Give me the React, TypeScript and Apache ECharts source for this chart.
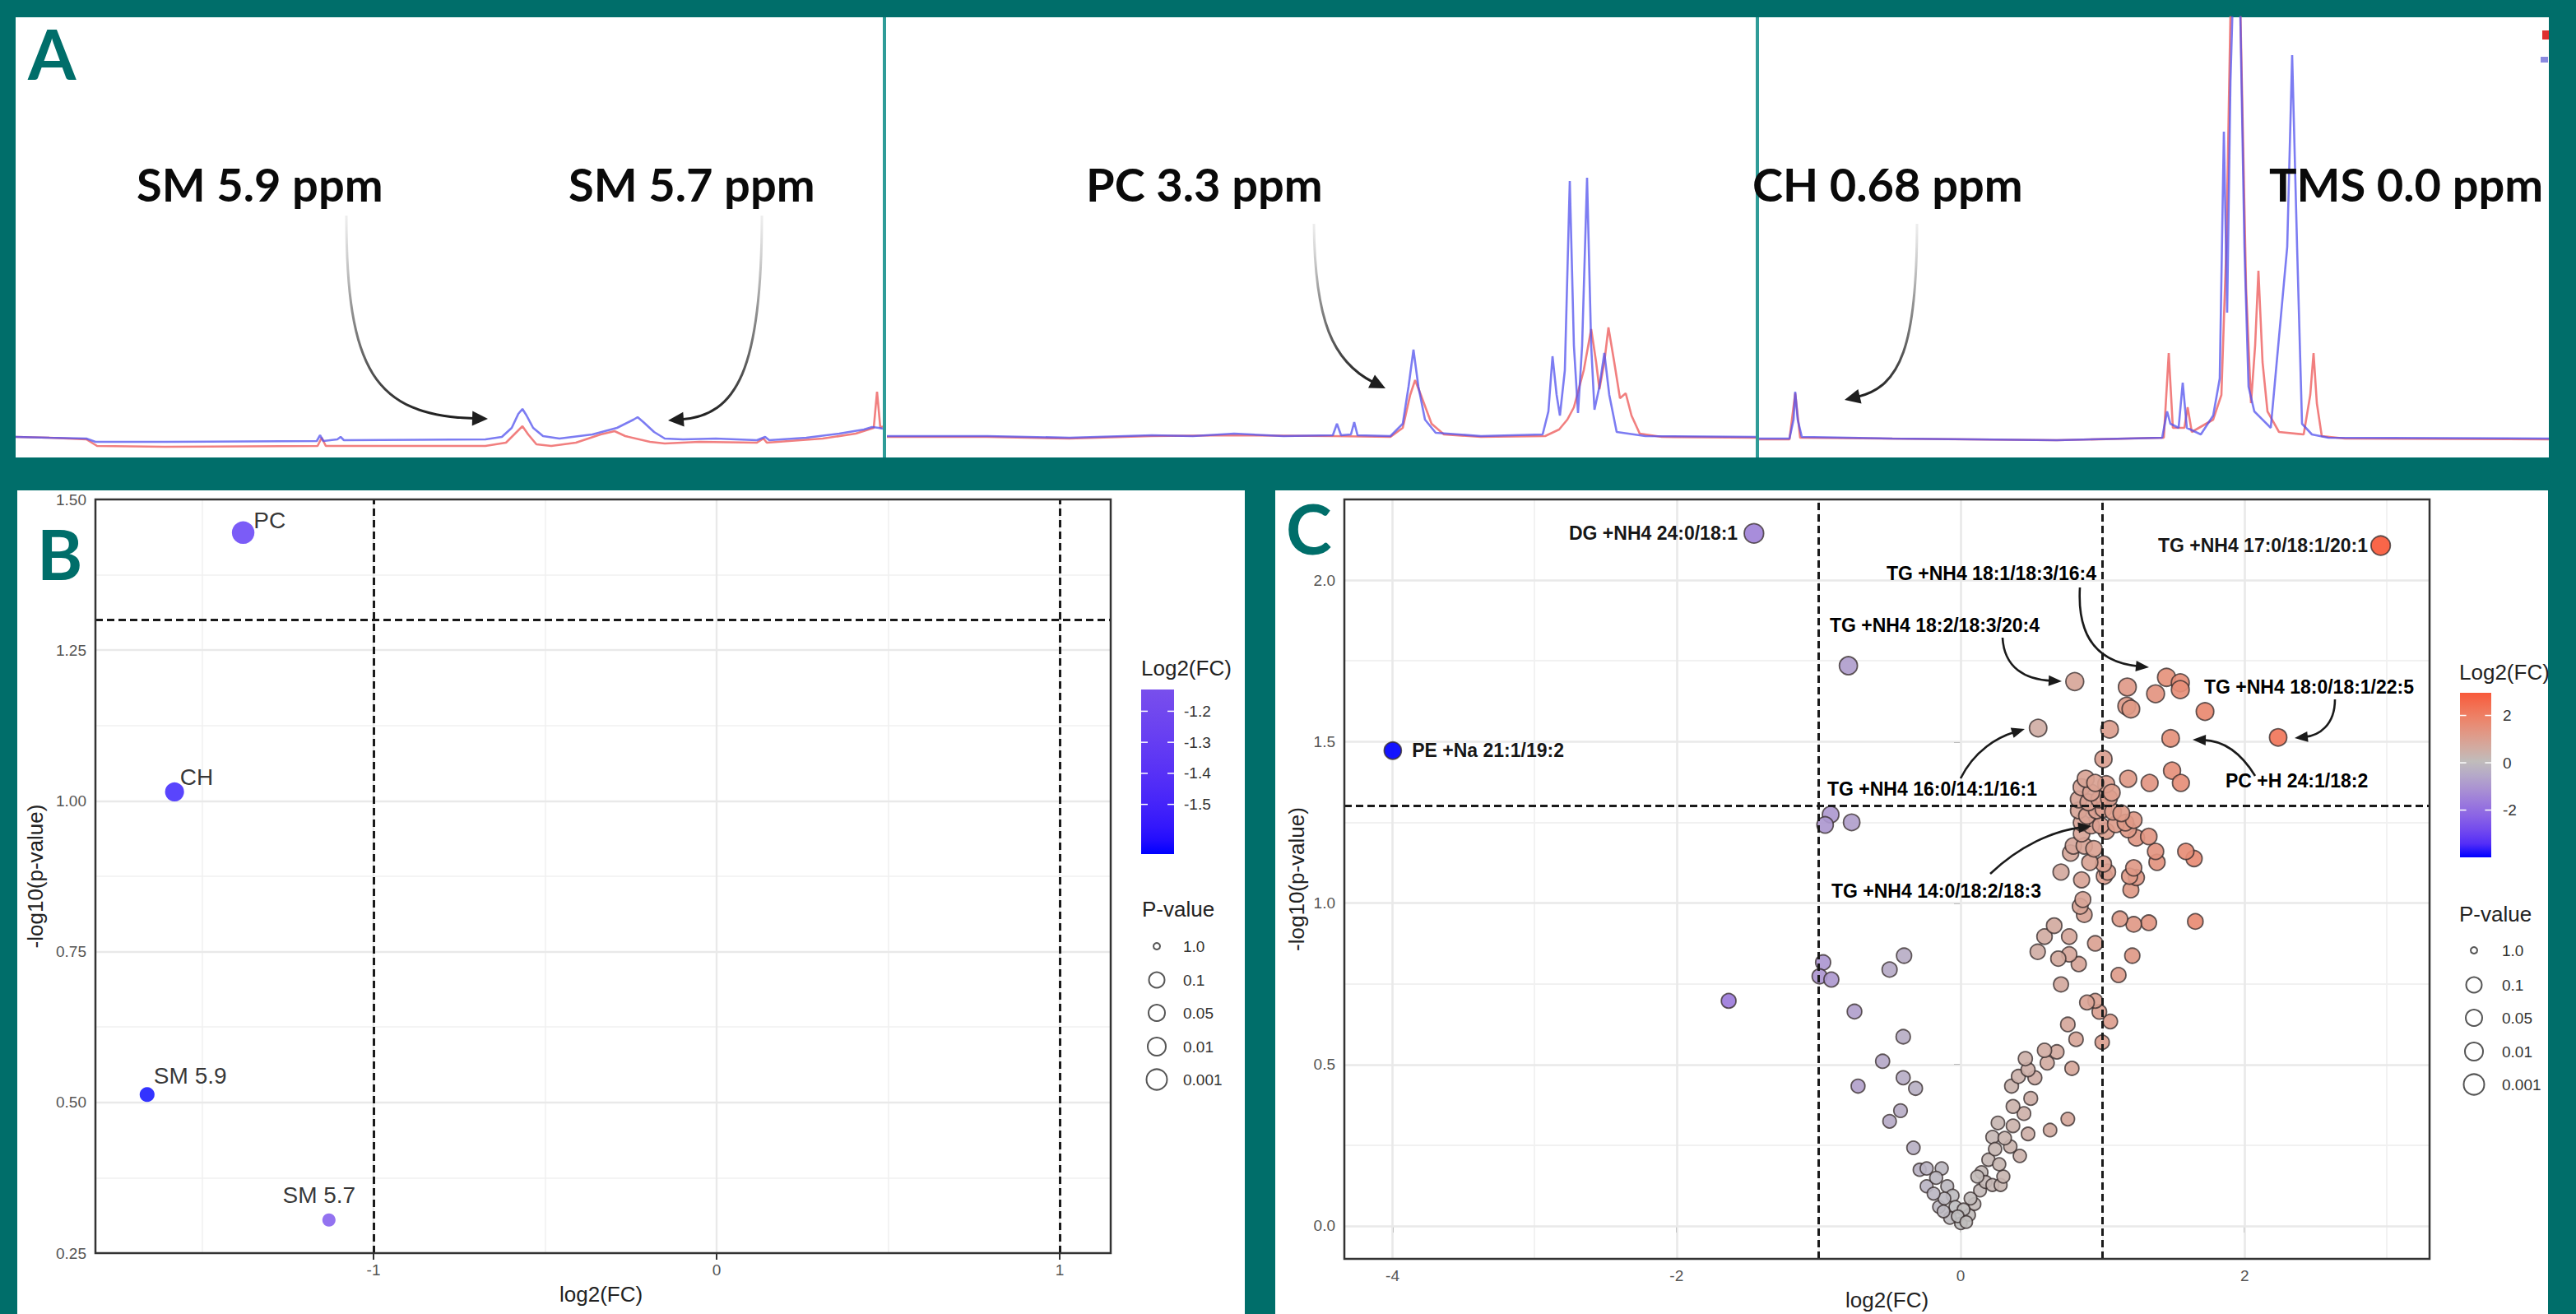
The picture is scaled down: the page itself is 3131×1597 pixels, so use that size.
import React, { useEffect, useRef } from "react";
import * as echarts from "echarts";

// ===================== DATA =====================
// Panel A : 1H-NMR traces, [position along sub-panel, intensity]
const a1Red = [[0,25],[41,24],[86,22],[99,14],[181,13],[367,14],[372,24],[377,14],[571,14],[596,18],[606,28],[616,38],[623,28],[633,16],[651,14],[681,18],[711,28],[728,32],[741,26],[771,19],[789,17],[831,19],[901,18],[909,23],[913,18],[981,23],[1021,29],[1043,36],[1047,80],[1051,36],[1054,38]];
const a1Blue = [[0,25],[41,24],[86,23],[97,19],[181,19],[366,20],[370,27],[374,20],[391,22],[395,25],[399,21],[571,22],[591,25],[603,36],[611,53],[616,59],[621,51],[629,36],[641,26],[661,23],[701,28],[731,36],[751,46],[756,49],[763,43],[776,31],[789,23],[811,22],[851,23],[901,21],[911,25],[916,21],[961,24],[1001,29],[1031,34],[1041,37],[1049,36],[1054,35]];
const a2Red = [[0,25],[122,25],[222,23],[322,26],[422,27],[542,26],[612,25],[627,36],[636,76],[642,94],[649,76],[662,41],[677,28],[722,25],[800,26],[817,34],[827,46],[835,61],[847,106],[856,156],[862,116],[866,83],[872,116],[877,158],[884,116],[891,72],[898,78],[905,51],[915,29],[942,25],[1056,24]];
const a2Blue = [[0,26],[122,26],[222,24],[322,27],[372,26],[422,29],[482,26],[542,27],[547,41],[552,27],[564,28],[568,43],[572,27],[612,26],[627,41],[634,86],[640,131],[646,86],[654,46],[667,30],[722,26],[797,28],[804,56],[809,123],[814,76],[818,51],[824,106],[830,336],[835,136],[840,54],[845,136],[851,340],[856,136],[860,58],[866,86],[872,127],[878,76],[887,31],[922,26],[1056,25]];
const a3Red = [[0,22],[37,22],[44,78],[50,24],[362,21],[492,24],[498,127],[503,36],[517,36],[521,61],[526,31],[552,46],[562,76],[568,256],[574,596],[584,596],[592,206],[598,66],[603,136],[607,227],[612,116],[618,56],[632,31],[662,28],[670,76],[674,127],[678,66],[684,26],[712,23],[960,22]];
const a3Blue = [[0,23],[37,23],[42,46],[44,80],[47,46],[52,25],[162,23],[362,21],[490,24],[496,56],[500,41],[510,36],[515,91],[520,36],[537,28],[552,51],[560,96],[565,396],[569,176],[573,456],[577,596],[584,596],[590,256],[595,86],[602,56],[622,36],[642,256],[648,489],[654,256],[660,41],[672,28],[692,24],[960,23]];
const nmrLabels = ["SM 5.9 ppm", "SM 5.7 ppm", "PC 3.3 ppm", "CH 0.68 ppm", "TMS 0.0 ppm"];

// Panel B : NMR lipids
const bNames = ["PC", "CH", "SM 5.9", "SM 5.7"];
const bLog2FC = [-1.38, -1.58, -1.66, -1.13];
const bNegLogP = [1.445, 1.015, 0.513, 0.305];
const bXTicks = [-1, 0, 1];
const bYTicks = [0.25, 0.5, 0.75, 1.0, 1.25, 1.5];
const bColorTicks = [-1.2, -1.3, -1.4, -1.5];

// Panel C : lipidomics volcano plot, [log2(FC), -log10(p)]
const cPoints = [
  [-1.633,0.697],[-0.790,1.735],[-0.915,1.274],[-0.954,1.242],[-0.767,1.250],[-0.968,0.816],[-0.993,0.773],[-0.910,0.763],
  [-0.398,0.837],[-0.500,0.794],[-0.747,0.664],[-0.404,0.586],[-0.549,0.510],[-0.722,0.433],[-0.404,0.459],[-0.317,0.426],
  [-0.423,0.357],[-0.500,0.324],[-0.332,0.242],
  [-0.288,0.174],[-0.239,0.178],[-0.133,0.178],[-0.239,0.123],[-0.172,0.149],[-0.094,0.123],[-0.152,0.059],[-0.056,0.094],
  [-0.037,0.059],[0.002,0.008],[0.060,0.034],[0.098,0.068],[0.137,0.110],[0.147,0.166],[-0.075,0.025],[-0.114,0.085],
  [0.021,0.051],[0.070,0.085],[0.176,0.136],[0.196,0.205],[0.225,0.275],[0.118,0.153],[-0.020,0.030],[0.040,0.012],
  [-0.190,0.100],[-0.120,0.045],
  [0.224,0.127],[0.282,0.127],[0.301,0.153],[0.272,0.191],[0.417,0.217],[0.243,0.238],[0.350,0.246],[0.311,0.272],
  [0.475,0.285],[0.369,0.310],[0.263,0.319],[0.630,0.297],[0.755,0.331],[0.446,0.348],[0.369,0.370],[0.494,0.395],
  [0.359,0.433],[0.407,0.463],[0.523,0.459],[0.475,0.484],[0.784,0.488],[0.610,0.505],
  [0.456,0.518],[0.678,0.539],[0.591,0.544],[0.997,0.569],[0.813,0.578],[0.755,0.624],[1.054,0.633],[0.977,0.663],
  [0.948,0.697],[0.890,0.692],[0.707,0.748],[1.112,0.777],[1.209,0.837],[0.948,0.875],[0.832,0.811],[0.765,0.841],
  [0.688,0.828],[0.543,0.849],[0.765,0.896],[0.591,0.896],[0.659,0.930],[1.653,0.943],[1.325,0.939],[1.219,0.934],
  [1.122,0.951],[0.871,0.964],[0.842,0.990],[0.861,1.011],[1.383,1.126],[1.199,1.041],[1.238,1.079],[1.190,1.083],
  [1.219,1.109],[0.852,1.072],[0.707,1.096],[1.012,1.083],[1.035,1.096],[1.006,1.121],[0.910,1.126],[0.775,1.155],
  [1.644,1.138],
  [0.794,1.177],[0.871,1.177],[0.939,1.168],[1.373,1.160],[1.586,1.160],[0.852,1.215],[1.025,1.223],[0.919,1.240],
  [0.987,1.240],[0.852,1.249],[1.238,1.202],[1.325,1.206],[1.180,1.228],[1.093,1.244],[1.161,1.249],[1.219,1.257],
  [0.832,1.287],[0.890,1.270],[0.958,1.287],[1.006,1.291],[1.074,1.283],[1.132,1.278],[0.832,1.321],[0.900,1.312],
  [0.977,1.321],[1.045,1.325],[0.852,1.359],[0.919,1.342],[1.025,1.368],[1.064,1.342],[0.881,1.385],[0.948,1.372],
  [1.006,1.446],[1.180,1.385],[1.331,1.372],[1.489,1.410],[1.551,1.372],[1.049,1.538],[1.479,1.510],[1.170,1.610],
  [1.199,1.601],[1.721,1.593],[1.174,1.669],[1.450,1.699],[1.373,1.648],[1.547,1.682],[1.547,1.661],[0.804,1.686],
  [0.546,1.542],[2.236,1.513],
];
const cDirectNames = ["DG +NH4 24:0/18:1", "PE +Na 21:1/19:2", "TG +NH4 17:0/18:1/20:1"];
const cDirectX = [-1.455, -3.998, 2.958];
const cDirectY = [2.145, 1.472, 2.107];
const cArrowLabels = ["TG +NH4 18:1/18:3/16:4", "TG +NH4 18:2/18:3/20:4", "TG +NH4 16:0/14:1/16:1",
  "TG +NH4 14:0/18:2/18:3", "TG +NH4 18:0/18:1/22:5", "PC +H 24:1/18:2"];
const cXTicks = [-4, -2, 0, 2];
const cYTicks = [0, 0.5, 1.0, 1.5, 2.0];
const cColorTicks = [2, 0, -2];
const pLegendLabels = ["1.0", "0.1", "0.05", "0.01", "0.001"];
const fcCut = [-1, 1];
const pCut = 1.301;

// ===================== LAYOUT / STYLE =====================
const W = 3131, H = 1597;
const TEAL = "#006e6a";
const SANS = "'Liberation Sans', Arial, Helvetica, sans-serif";
const LATO = "Lato, 'Noto Sans', sans-serif";
const LAY = {
  panelA: [19, 21, 3079, 535], panelB: [21, 596, 1492, 1001], panelC: [1550, 596, 1547, 1001],
  aSubs: [[19, 1054], [1078, 1056], [2138, 960]], aSeps: [1073, 2134],
  gridB: { left: 116, top: 607, width: 1234, height: 916 }, bX: [-1.8106, 1.1487], bY: [0.25, 1.5],
  gridC: { left: 1634, top: 607, width: 1319, height: 923 }, cX: [-4.339, 3.302], cY: [-0.102, 2.25],
  letters: [["A", 34, 64], ["B", 45, 672], ["C", 1563, 641]],
  nmrLabelPos: [[166, 223], [691, 223], [1320, 223], [2130, 223], [2758, 223]],
  nmrArrows: [
    [[421, 262], [421, 450], [455, 505], [593, 509]],
    [[926, 262], [926, 450], [895, 505], [812, 511]],
    [[1597, 272], [1598, 390], [1620, 440], [1684, 472]],
    [[2330, 272], [2330, 420], [2310, 470], [2242, 486]],
  ],
  bLabel: [
    { position: "right", distance: 0, offset: [-1, -15] },
    { position: "right", distance: 0, offset: [-5, -18] },
    { position: "right", distance: 0, offset: [-1, -23] },
    { position: "top", distance: 0, offset: [-12, -8] },
  ],
  cDirect: [{ position: "left", distance: 7 }, { position: "right", distance: 12 }, { position: "left", distance: 3 }],
  cArrowLabelPos: [[2548, 697, "right"], [2224, 760, "left"], [2221, 959, "left"], [2226, 1083, "left"], [2679, 835, "left"], [2705, 949, "left"]],
  cArrows: [
    [[2528, 714], [2524, 785], [2560, 806], [2612, 811]],
    [[2434, 775], [2436, 812], [2462, 826], [2506, 828]],
    [[2383, 946], [2400, 912], [2428, 896], [2461, 886]],
    [[2419, 1062], [2455, 1028], [2495, 1010], [2542, 1004]],
    [[2838, 850], [2838, 882], [2818, 894], [2789, 897]],
    [[2741, 943], [2722, 912], [2700, 900], [2665, 899]],
  ],
  bLegend: { title: [1387, 812], bar: [1387, 838, 40, 200], lab: 1439, pTitle: [1388, 1105], cx: 1406, cy: [1150, 1191, 1231, 1272, 1312] },
  cLegend: { title: [2989, 817], bar: [2990, 842, 38, 200], lab: 3042, pTitle: [2989, 1111], cx: 3007, cy: [1155, 1197, 1237, 1278, 1318] },
  pCircleD: [8, 19, 20, 22, 25],
};

// ===================== COLOUR (ggplot gradient2, Lab) =====================
const lin = (c: number) => { c /= 255; return c <= 0.04045 ? c / 12.92 : Math.pow((c + 0.055) / 1.055, 2.4); };
const gam = (c: number) => { const v = c <= 0.0031308 ? 12.92 * c : 1.055 * Math.pow(c, 1 / 2.4) - 0.055; return Math.round(Math.max(0, Math.min(1, v)) * 255); };
function toLab(rgb: number[]) {
  const [R, G, B] = rgb.map(lin);
  const X = (R * 0.4124 + G * 0.3576 + B * 0.1805) / 0.95047, Y = R * 0.2126 + G * 0.7152 + B * 0.0722, Z = (R * 0.0193 + G * 0.1192 + B * 0.9505) / 1.08883;
  const f = (t: number) => (t > 0.008856 ? Math.cbrt(t) : 7.787 * t + 16 / 116);
  return [116 * f(Y) - 16, 500 * (f(X) - f(Y)), 200 * (f(Y) - f(Z))];
}
function fromLab([L, a, b]: number[]) {
  const fy = (L + 16) / 116, fx = fy + a / 500, fz = fy - b / 200;
  const fi = (t: number) => (t * t * t > 0.008856 ? t * t * t : (t - 16 / 116) / 7.787);
  const X = fi(fx) * 0.95047, Y = fi(fy), Z = fi(fz) * 1.08883;
  return `rgb(${gam(3.2406 * X - 1.5372 * Y - 0.4986 * Z)},${gam(-0.9689 * X + 1.8758 * Y + 0.0415 * Z)},${gam(0.0557 * X - 0.204 * Y + 1.057 * Z)})`;
}
const LAB_MID = toLab([190, 190, 190]), LAB_HI = toLab([255, 0, 0]), LAB_LO = toLab([0, 0, 255]);
function gradient2(v: number, lim: number) {
  const t = Math.min(1, Math.abs(v) / lim), end = v >= 0 ? LAB_HI : LAB_LO;
  return fromLab(LAB_MID.map((m, i) => m + (end[i] - m) * t));
}

// ===================== HELPERS =====================
const txt = (x: number, y: number, text: string, size: number, o: any = {}) => ({
  type: "text", x, y, z: 60, silent: true,
  style: { text, fontSize: size, fontFamily: o.family ?? SANS, fontWeight: o.weight ?? "normal", fill: o.color ?? "#222", align: o.align ?? "left", verticalAlign: "middle", lineHeight: o.lineHeight ?? Math.round(size * 1.15) },
});
function arrow(a: number[][], stroke: any, width: number, hl: number, hw: number, head: string) {
  const [p0, c1, c2, p3] = a;
  const dx = p3[0] - c2[0], dy = p3[1] - c2[1], d = Math.hypot(dx, dy), ux = dx / d, uy = dy / d;
  const bx = p3[0] - ux * hl, by = p3[1] - uy * hl, nx = -uy, ny = ux;
  return [
    { type: "bezierCurve", z: 55, silent: true, shape: { x1: p0[0], y1: p0[1], cpx1: c1[0], cpy1: c1[1], cpx2: c2[0], cpy2: c2[1], x2: bx + ux * 3, y2: by + uy * 3 }, style: { stroke, lineWidth: width, fill: null } },
    { type: "polygon", z: 56, silent: true, shape: { points: [[p3[0], p3[1]], [bx + (nx * hw) / 2, by + (ny * hw) / 2], [bx - (nx * hw) / 2, by - (ny * hw) / 2]] }, style: { fill: head } },
  ];
}
function legendBlock(lg: any, min: number, max: number, lim: number, ticks: number[], fmt: (v: number) => string) {
  const [bx, by, bw, bh] = lg.bar;
  const stops = Array.from({ length: 13 }, (_, i) => ({ offset: i / 12, color: gradient2(max - ((max - min) * i) / 12, lim) }));
  const els: any[] = [
    txt(lg.title[0], lg.title[1], "Log2(FC)", 26),
    { type: "rect", z: 58, silent: true, shape: { x: bx, y: by, width: bw, height: bh }, style: { fill: new echarts.graphic.LinearGradient(0, 0, 0, 1, stops) } },
  ];
  ticks.forEach((v) => {
    const ty = by + ((max - v) / (max - min)) * bh;
    els.push({ type: "line", z: 59, silent: true, shape: { x1: bx, y1: ty, x2: bx + bw / 5, y2: ty }, style: { stroke: "#fff", lineWidth: 1.5 } });
    els.push({ type: "line", z: 59, silent: true, shape: { x1: bx + bw - bw / 5, y1: ty, x2: bx + bw, y2: ty }, style: { stroke: "#fff", lineWidth: 1.5 } });
    els.push(txt(lg.lab, ty, fmt(v), 19, { color: "#333" }));
  });
  els.push(txt(lg.pTitle[0], lg.pTitle[1], "P-value", 26));
  pLegendLabels.forEach((l, i) => {
    els.push({ type: "circle", z: 59, silent: true, shape: { cx: lg.cx, cy: lg.cy[i], r: LAY.pCircleD[i] / 2 }, style: { fill: "none", stroke: "#555", lineWidth: 2 } });
    els.push(txt(lg.lab - 1, lg.cy[i], l, 19, { color: "#333" }));
  });
  return els;
}
const gridLines = (idx: number, xs: number[], ys: number[], xr: number[], yr: number[], color: string, width: number, z: number, type: any = "solid") => ({
  type: "lines", coordinateSystem: "cartesian2d", xAxisIndex: idx, yAxisIndex: idx, silent: true, z, polyline: false,
  lineStyle: { color, width, opacity: 1, curveness: 0, type },
  data: [...xs.map((x) => ({ coords: [[x, yr[0]], [x, yr[1]]] })), ...ys.map((y) => ({ coords: [[xr[0], y], [xr[1], y]] }))],
});

function buildOption() {
  const limB = Math.max(...bLog2FC.map(Math.abs));
  const limC = Math.max(...cPoints.map((p) => Math.abs(p[0])), ...cDirectX.map(Math.abs));
  const axisTextB = { color: "#555", fontSize: 19, fontFamily: SANS };
  const bLabelText = { fontSize: 28, color: "#000", fontFamily: SANS, fontWeight: "normal" };
  const cLabelText = { fontSize: 23, fontWeight: "bold", color: "#000", fontFamily: SANS };

  const grids: any[] = LAY.aSubs.map(([l, w]) => ({ left: l, top: LAY.panelA[1], width: w, height: LAY.panelA[3], outerBoundsMode: "none" }));
  grids.push({ ...LAY.gridB, show: true, borderColor: "#333", borderWidth: 2.5, backgroundColor: "transparent", z: 6, outerBoundsMode: "none" });
  grids.push({ ...LAY.gridC, show: true, borderColor: "#333", borderWidth: 2.5, backgroundColor: "transparent", z: 6, outerBoundsMode: "none" });

  const xAxes: any[] = LAY.aSubs.map(([, w], i) => ({ type: "value", gridIndex: i, min: 0, max: w, show: false }));
  const yAxes: any[] = LAY.aSubs.map((_, i) => ({ type: "value", gridIndex: i, min: 0, max: LAY.panelA[3], show: false }));
  const mkX = (gi: number, r: number[], ticks: number[]) => ({
    type: "value", gridIndex: gi, min: r[0], max: r[1], splitLine: { show: false }, axisLine: { show: false },
    axisTick: { show: true, customValues: ticks, length: 8, lineStyle: { color: "#333", width: 2 } },
    axisLabel: { customValues: ticks, margin: 11, formatter: (v: number) => String(v), ...axisTextB },
  });
  const mkY = (gi: number, r: number[], ticks: number[], dp: number, gap: number) => ({
    type: "value", gridIndex: gi, min: r[0], max: r[1], splitLine: { show: false }, axisLine: { show: false },
    axisTick: { show: true, customValues: ticks, length: 8, lineStyle: { color: "#333", width: 2 } },
    axisLabel: { customValues: ticks, margin: 11, formatter: (v: number) => v.toFixed(dp), ...axisTextB },
    name: "-log10(p-value)", nameLocation: "middle", nameRotate: 90, nameGap: gap,
    nameTextStyle: { fontSize: 26, color: "#222", fontFamily: SANS },
  });
  xAxes.push(mkX(3, LAY.bX, bXTicks));
  yAxes.push(mkY(3, LAY.bY, bYTicks, 2, 60));
  xAxes.push({ ...mkX(4, LAY.cX, cXTicks), name: "log2(FC)", nameLocation: "middle", nameGap: 37, nameTextStyle: { fontSize: 26, color: "#222", fontFamily: SANS } });
  yAxes.push(mkY(4, LAY.cY, cYTicks, 1, 45));

  const series: any[] = [];
  const spectra = [[a1Red, a1Blue], [a2Red, a2Blue], [a3Red, a3Blue]];
  spectra.forEach(([red, blue], i) => {
    series.push({ type: "line", xAxisIndex: i, yAxisIndex: i, data: red, showSymbol: false, symbol: "none", clip: true, z: 3, lineStyle: { color: "rgba(238,105,105,0.85)", width: 2.6 } });
    series.push({ type: "line", xAxisIndex: i, yAxisIndex: i, data: blue, showSymbol: false, symbol: "none", clip: true, z: 4, lineStyle: { color: "rgba(80,80,238,0.75)", width: 2.6 } });
  });

  // Panel B
  series.push(gridLines(3, [-1.5, -0.5, 0.5], [0.375, 0.625, 0.875, 1.125, 1.375], LAY.bX, LAY.bY, "#f1f1f1", 1.6, 1));
  series.push(gridLines(3, [-1, 0, 1], [0.5, 0.75, 1.0, 1.25], LAY.bX, LAY.bY, "#e9e9e9", 2.4, 1));
  series.push({
    type: "scatter", xAxisIndex: 3, yAxisIndex: 3, z: 3,
    symbolSize: (v: number[]) => 13 + 10 * v[1],
    label: { show: true, formatter: "{b}", ...bLabelText },
    data: bNames.map((n, i) => ({ name: n, value: [bLog2FC[i], bNegLogP[i]], itemStyle: { color: gradient2(bLog2FC[i], limB) }, label: { show: true, formatter: "{b}", ...bLabelText, ...LAY.bLabel[i] } })),
  });
  series.push(gridLines(3, fcCut, [pCut], LAY.bX, LAY.bY, "#1a1a1a", 3, 5, [9, 5]));

  // Panel C
  series.push(gridLines(4, [-3, -1, 1, 3], [0.25, 0.75, 1.25, 1.75], LAY.cX, LAY.cY, "#f1f1f1", 1.8, 1));
  series.push(gridLines(4, [-4, -2, 0, 2], [0, 0.5, 1.0, 1.5, 2.0], LAY.cX, LAY.cY, "#e9e9e9", 2.6, 1));
  const cStyle = { borderColor: "rgba(55,45,45,0.85)", borderWidth: 1.8, opacity: 0.92 };
  series.push({
    type: "scatter", xAxisIndex: 4, yAxisIndex: 4, z: 3,
    symbolSize: (v: number[]) => 15 + 4 * v[1],
    data: cPoints.map((p) => ({ value: p, itemStyle: { color: gradient2(p[0], limC), ...cStyle } })),
  });
  series.push({
    type: "scatter", xAxisIndex: 4, yAxisIndex: 4, z: 3,
    symbolSize: (v: number[]) => 15 + 4 * v[1],
    label: { show: true, formatter: "{b}", ...cLabelText },
    data: cDirectNames.map((n, i) => ({ name: n, value: [cDirectX[i], cDirectY[i]], itemStyle: { color: gradient2(cDirectX[i], limC), ...cStyle }, label: { show: true, formatter: "{b}", ...cLabelText, ...LAY.cDirect[i] } })),
  });
  series.push(gridLines(4, fcCut, [pCut], LAY.cX, LAY.cY, "#1a1a1a", 3, 5, [9, 5]));

  // Graphics
  const g: any[] = [];
  const [pax, pay, paw, pah] = LAY.panelA;
  [LAY.panelA, LAY.panelB, LAY.panelC].forEach(([x, y, w, h]) => g.push({ type: "rect", z: -10, silent: true, shape: { x, y, width: w, height: h }, style: { fill: "#fff" } }));
  LAY.aSeps.forEach((x) => g.push({ type: "rect", z: 20, silent: true, shape: { x, y: pay, width: 4, height: pah }, style: { fill: "#2f9c98" } }));
  g.push({ type: "rect", z: 20, silent: true, shape: { x: pax + paw - 8, y: 37, width: 8, height: 11 }, style: { fill: "#e03030" } });
  g.push({ type: "rect", z: 20, silent: true, shape: { x: pax + paw - 10, y: 69, width: 9, height: 7 }, style: { fill: "#8a8ae0" } });
  nmrLabels.forEach((t, i) => g.push(txt(LAY.nmrLabelPos[i][0], LAY.nmrLabelPos[i][1], t, 56, { family: LATO, weight: "bold", color: "#0a0a0a" })));
  const grey = new echarts.graphic.LinearGradient(0, 0, 0, 1, [
    { offset: 0, color: "rgba(205,205,205,0.35)" }, { offset: 0.45, color: "rgba(130,130,130,0.85)" }, { offset: 1, color: "#1e1e1e" },
  ]);
  LAY.nmrArrows.forEach((a) => g.push(...arrow(a, grey, 3, 19, 18, "#1e1e1e")));
  LAY.letters.forEach(([t, x, y]) => g.push(txt(x as number, y as number, t as string, 84, { family: LATO, weight: "bold", color: TEAL, lineHeight: 60 })));
  g.push(txt(680, 1573, "log2(FC)", 26));
  g.push(...legendBlock(LAY.bLegend, Math.min(...bLog2FC), Math.max(...bLog2FC), limB, bColorTicks, (v) => v.toFixed(1)));
  const cAll = [...cPoints.map((p) => p[0]), ...cDirectX];
  g.push(...legendBlock(LAY.cLegend, Math.min(...cAll), Math.max(...cAll), limC, cColorTicks, (v) => String(v)));
  cArrowLabels.forEach((t, i) => {
    const [x, y, al] = LAY.cArrowLabelPos[i] as any;
    g.push(txt(x, y, t, 23, { weight: "bold", color: "#000", align: al }));
  });
  LAY.cArrows.forEach((a) => g.push(...arrow(a, "#1a1a1a", 2.6, 16, 13, "#1a1a1a")));

  return { animation: false, backgroundColor: TEAL, grid: grids, xAxis: xAxes, yAxis: yAxes, series, graphic: { elements: g } };
}

export default function App() {
  const ref = useRef<HTMLDivElement>(null);
  useEffect(() => {
    const chart = echarts.init(ref.current!, null, { renderer: "svg", width: W, height: H });
    chart.setOption(buildOption());
    return () => chart.dispose();
  }, []);
  return <div ref={ref} style={{ position: "fixed", left: 0, top: 0, width: W, height: H }} />;
}
